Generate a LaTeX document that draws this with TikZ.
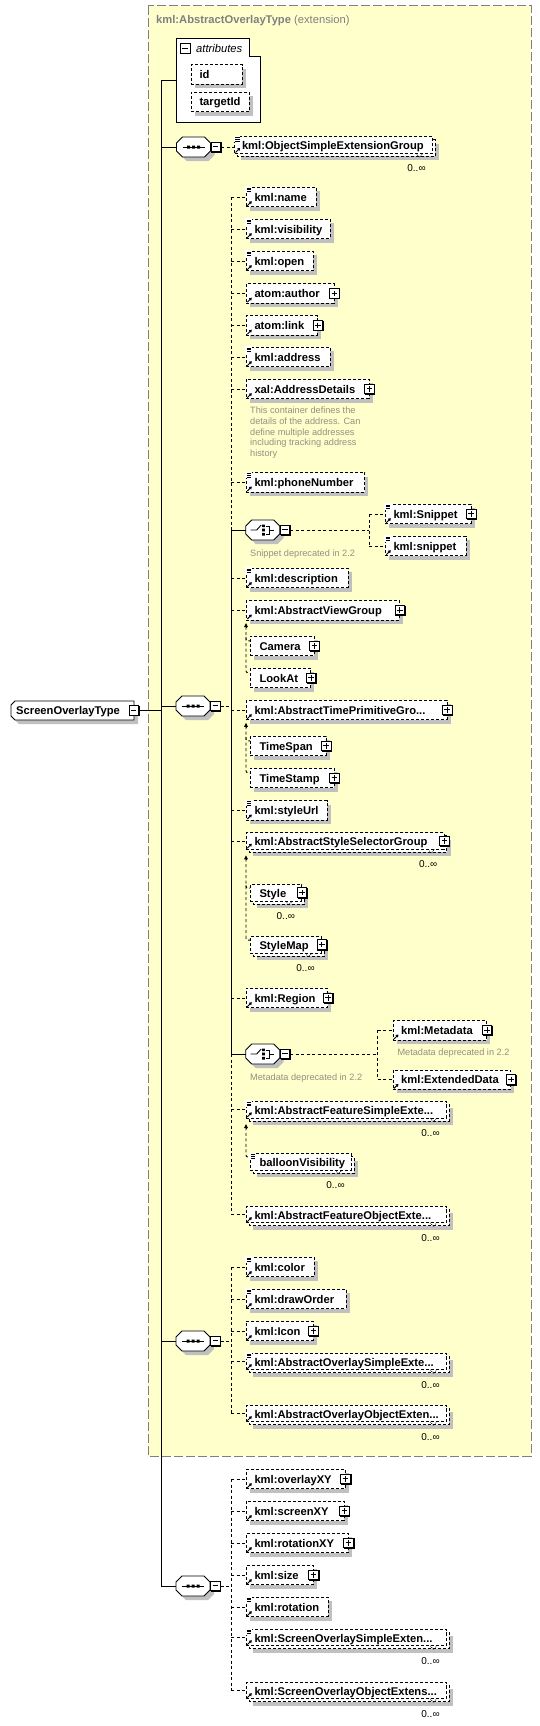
\documentclass[tikz,border=0pt]{standalone}
\usepackage{fontspec}
\setmainfont{Liberation Sans}
\usetikzlibrary{arrows.meta}
\definecolor{ybg}{RGB}{255,255,204}
\definecolor{ybd}{RGB}{128,128,128}
\definecolor{shcol}{RGB}{192,192,192}
\definecolor{desccol}{RGB}{150,142,130}
\definecolor{titlecol}{RGB}{128,128,128}
\newcommand\elfont{\fontsize{11.2}{13}\selectfont\bfseries}
\newcommand\smallfont{\fontsize{9.2}{10.67}\selectfont}
\newcommand\occfont{\fontsize{10}{12}\selectfont}
\tikzset{
  elbox/.style={draw, line width=0.9pt, dash pattern=on 3pt off 2pt, fill=white, inner sep=0pt, minimum height=19.5pt, anchor=west},
  elboxm/.style={elbox, minimum height=16.5pt},
  eltext/.style={anchor=base west, inner sep=0pt, font=\elfont},
  conn/.style={line width=0.9pt, dash pattern=on 3pt off 2.5pt},
  solidconn/.style={line width=0.9pt},
  desc/.style={anchor=base west, inner sep=0pt, font=\smallfont, text=desccol},
  occ/.style={anchor=base, inner sep=0pt, font=\occfont},
  hook/.style={conn, rounded corners=2pt},
}
% element box: id, x0, yc, x1, text, indent
\newcommand\xEl[6]{%
  \fill[shcol] ({#2+4},{#3-5.75}) rectangle ({#4+4},{#3+13.75});
  \node[elbox, minimum width={#4pt-#2pt}] (#1) at (#2,#3) {};
  \node[eltext] (#1-t) at ({#2+#6},{#3+4}) {#5};
}
% multiple-occurrence element box
\newcommand\xElM[6]{%
  \fill[shcol] ({#2+7},{#3-2.75}) rectangle ({#4+7},{#3+13.75});
  \draw[line width=0.9pt, dash pattern=on 3pt off 2pt, fill=white] ({#2+3},{#3-6.75}) rectangle ({#4+3},{#3+9.75});
  \node[elboxm, minimum width={#4pt-#2pt}] (#1) at (#2,{#3-1.5}) {};
  \node[eltext] (#1-t) at ({#2+#6},{#3+3}) {#5};
  \draw[line width=0.6pt, dash pattern=on 1pt off 1pt] ({#4-16},{#3+6.75}) -- ({#4-12.5},{#3+10.5}) -- ({#4-9},{#3+6.75});
  \node[occ] (#1-o) at ({#4-15.5},{#3+25}) {0..∞};
}
\newcommand\xSimp[1]{%
  \fill[white] ([shift={(-0.6,-0.6)}]#1.north west) rectangle ([shift={(5.8,6)}]#1.north west);
  \draw[line width=0.8pt] ([shift={(0.8,1.2)}]#1.north west) -- ++(4.6,0)
     ([shift={(0.8,3)}]#1.north west) -- ++(4.6,0)
     ([shift={(0.8,4.8)}]#1.north west) -- ++(4.6,0);
}
\newcommand\xRef[1]{%
  \draw[line width=1pt, -{Triangle[length=2.6pt,width=3.2pt]}] ([shift={(1.3,-1.5)}]#1.south west) -- ([shift={(5.8,-6)}]#1.south west);
}
\newcommand\xPlus[1]{%
  \draw[line width=0.8pt, fill=white] ([shift={(-5,-5)}]#1.east) rectangle ([shift={(4.5,4.5)}]#1.east);
  \draw[line width=1.6pt] ([shift={(5,-4.6)}]#1.east) -- ([shift={(5,5)}]#1.east) -- ([shift={(-4.6,5)}]#1.east);
  \draw[line width=0.8pt] ([shift={(-3,-0.2)}]#1.east) -- ([shift={(2.6,-0.2)}]#1.east) ([shift={(-0.2,-3)}]#1.east) -- ([shift={(-0.2,2.6)}]#1.east);
}
\newcommand\xMinusAt[2]{%
  \draw[line width=0.8pt, fill=white] ({#1},{#2-5}) rectangle ({#1+9.5},{#2+4.5});
  \draw[line width=1.6pt] ({#1+10},{#2-4.6}) -- ({#1+10},{#2+5}) -- ({#1+0.4},{#2+5});
  \draw[line width=0.8pt] ({#1+2.2},{#2-0.2}) -- ({#1+7.3},{#2-0.2});
}
\newcommand\xOct[2]{({#1+6},{#2-10}) -- ({#1+28},{#2-10}) -- ({#1+34},{#2-4}) -- ({#1+34},{#2+4}) -- ({#1+28},{#2+10}) -- ({#1+6},{#2+10}) -- ({#1},{#2+4}) -- ({#1},{#2-4}) -- cycle}
\newcommand\xSeq[3]{%
  \fill[shcol] \xOct{#2+4}{#3+4};
  \filldraw[line width=0.9pt, fill=white] \xOct{#2}{#3};
  \node[inner sep=0pt, minimum width=34pt, minimum height=20pt, anchor=west] (#1) at (#2,#3) {};
  \draw[line width=0.9pt] ({#2+6},#3) -- ({#2+28},#3);
  \fill ({#2+10.5},{#3-1.5}) rectangle ++(3,3) ({#2+15.5},{#3-1.5}) rectangle ++(3,3) ({#2+20.5},{#3-1.5}) rectangle ++(3,3);
  \xMinusAt{#2+34.5}{#3}
  \coordinate (#1-m) at ({#2+44.5},#3);
}
\newcommand\xChoice[3]{%
  \fill[shcol] \xOct{#2+4}{#3+4};
  \filldraw[line width=0.9pt, fill=white] \xOct{#2}{#3};
  \node[inner sep=0pt, minimum width=34pt, minimum height=20pt, anchor=west] (#1) at (#2,#3) {};
  \draw[line width=0.9pt] ({#2+5},#3) -- ({#2+11},#3) -- ({#2+15.5},{#3-5});
  \fill ({#2+16.5},{#3-5.5}) rectangle ++(2.6,2.6) ({#2+16.5},{#3-1.3}) rectangle ++(2.6,2.6) ({#2+16.5},{#3+2.9}) rectangle ++(2.6,2.6);
  \draw[line width=0.9pt] ({#2+20},{#3-4}) -- ({#2+24},{#3-4}) -- ({#2+24},{#3+4}) -- ({#2+20},{#3+4}) ({#2+24},#3) -- ({#2+28},#3);
  \xMinusAt{#2+34.5}{#3}
  \coordinate (#1-m) at ({#2+44.5},#3);
}
\begin{document}
\begin{tikzpicture}[x=1pt, y=-1pt]
\useasboundingbox (0,0) rectangle (539,1726);
% extension background
\filldraw[fill=ybg, draw=ybd, line width=1pt, dash pattern=on 9pt off 3pt] (148.3,6) rectangle (531,1456);
\node[anchor=base west, inner sep=0pt, font=\fontsize{11.2}{13}\selectfont, text=titlecol] (title) at (156,24) {\textbf{kml:AbstractOverlayType} (extension)};

% attributes
\filldraw[fill=white, line width=0.9pt] (176,38.3) -- (249.3,38.3) -- (249.3,56.7) -- (260,56.7) -- (260,122.3) -- (176,122.3) -- cycle;
\node[inner sep=0pt, minimum width=84pt, minimum height=84pt, anchor=north west] (attr) at (176,38.3) {};
\draw[line width=0.9pt, fill=white] (180,43.3) rectangle (190,53.3);
\draw[line width=0.8pt] (182.2,48.3) -- (187.8,48.3);
\node[anchor=base west, inner sep=0pt, font=\fontsize{11.2}{13}\selectfont\itshape] (attr-t) at (196,52.3) {attributes};
\xEl{id}{190.7}{74.5}{241.7}{id}{8.6}
\xEl{tid}{190.7}{102}{249}{targetId}{8.6}

% root
\fill[shcol] (19,705) -- (138,705) -- (138,724) -- (19,724) -- (15,720) -- (15,709) -- cycle;
\filldraw[fill=white, line width=0.9pt] (15,701) -- (134,701) -- (134,720) -- (15,720) -- (11,716) -- (11,705) -- cycle;
\node[inner sep=0pt, minimum width=123pt, minimum height=19pt, anchor=west] (sot) at (11,710.5) {};
\node[eltext] (sot-t) at (16,714.5) {ScreenOverlayType};
\xMinusAt{129}{710.5}
\coordinate (sot-m) at (139,710.5);

% sequences
\xSeq{seq1}{176.5}{147}
\xSeq{seqm}{176}{706}
\xSeq{seq2}{176}{1341}
\xSeq{seq3}{176}{1586}

\coordinate (vtop) at (161.5,80);
\coordinate (mv) at (231,0);
\coordinate (cv1) at (369.3,0);
\coordinate (cv2) at (377.7,0);

% seq1 child
\xElM{osg}{234.3}{146.7}{432}{kml:ObjectSimpleExtensionGroup}{7.5}
\xSimp{osg}\xRef{osg}

% main sequence children
\xEl{name}{246}{197}{315.7}{kml:name}{8.3} \xSimp{name}\xRef{name}
\xEl{vis}{246}{229}{329.7}{kml:visibility}{8.3} \xSimp{vis}\xRef{vis}
\xEl{open}{246}{261}{313}{kml:open}{8.3} \xSimp{open}\xRef{open}
\xEl{author}{246}{293.5}{333.7}{atom:author}{8.3} \xRef{author}\xPlus{author}
\xEl{link}{246}{325.5}{317}{atom:link}{8.3} \xRef{link}\xPlus{link}
\xEl{addr}{246}{357}{330}{kml:address}{8.3} \xSimp{addr}\xRef{addr}
\xEl{xal}{246}{389}{368.7}{xal:AddressDetails}{8.3} \xRef{xal}\xPlus{xal}
\node[desc, anchor=north west, align=left] (xal-d) at (250,406.8) {This container defines the\\details of the address. Can\\define multiple addresses\\including tracking address\\history};
\xEl{phone}{246}{482.3}{364.3}{kml:phoneNumber}{8.3} \xSimp{phone}\xRef{phone}
\xChoice{snipch}{245.7}{530}
\xEl{snip1}{385}{514}{470.5}{kml:Snippet}{8.3} \xSimp{snip1}\xRef{snip1}\xPlus{snip1}
\xEl{snip2}{385}{546}{465.7}{kml:snippet}{8.3} \xSimp{snip2}\xRef{snip2}
\node[desc] (snipch-d) at (250,556) {Snippet deprecated in 2.2};
\xEl{descr}{246}{578}{347.7}{kml:description}{8.3} \xSimp{descr}\xRef{descr}
\xEl{avg}{246}{610.3}{399}{kml:AbstractViewGroup}{8.3} \xRef{avg}\xPlus{avg}
\xEl{camera}{250}{646}{313.7}{Camera}{9.3} \xPlus{camera}
\xEl{lookat}{250}{678}{310.3}{LookAt}{9.3} \xPlus{lookat}
\xEl{atpg}{246}{710}{446.5}{kml:AbstractTimePrimitiveGro...}{8.3} \xRef{atpg}\xPlus{atpg}
\xEl{tspan}{250}{746}{325.5}{TimeSpan}{9.3} \xPlus{tspan}
\xEl{tstamp}{250}{778}{333.7}{TimeStamp}{9.3} \xPlus{tstamp}
\xEl{surl}{246}{810.3}{326.7}{kml:styleUrl}{8.3} \xSimp{surl}\xRef{surl}
\xElM{assg}{246}{842.5}{443.7}{kml:AbstractStyleSelectorGroup}{8.3} \xRef{assg}\xPlus{assg}
\xElM{style}{250}{894.3}{301.3}{Style}{9.3} \xPlus{style}
\xElM{smap}{250}{946.3}{321}{StyleMap}{9.3} \xPlus{smap}
\xEl{region}{246}{998}{327.2}{kml:Region}{8.3} \xRef{region}\xPlus{region}
\xChoice{metach}{245.7}{1054}
\xEl{meta}{392.7}{1030.3}{486.3}{kml:Metadata}{8.3} \xRef{meta}\xPlus{meta}
\node[desc] (meta-d) at (397.3,1055) {Metadata deprecated in 2.2};
\xEl{xdata}{392.7}{1079.7}{510.3}{kml:ExtendedData}{8.3} \xRef{xdata}\xPlus{xdata}
\node[desc] (metach-d) at (250,1080) {Metadata deprecated in 2.2};
\xElM{afse}{246}{1111.2}{446}{kml:AbstractFeatureSimpleExte...}{8.3} \xSimp{afse}\xRef{afse}
\xElM{balloon}{250}{1163.3}{351}{balloonVisibility}{9.3} \xSimp{balloon}
\xElM{afoe}{246}{1216}{446}{kml:AbstractFeatureObjectExte...}{8.3} \xRef{afoe}

% seq2 children
\xEl{color}{246}{1267}{314}{kml:color}{8.3} \xSimp{color}\xRef{color}
\xEl{dorder}{246}{1299}{345.7}{kml:drawOrder}{8.3} \xSimp{dorder}\xRef{dorder}
\xEl{icon}{246}{1331}{312.7}{kml:Icon}{8.3} \xRef{icon}\xPlus{icon}
\xElM{aose}{246}{1363}{446}{kml:AbstractOverlaySimpleExte...}{8.3} \xSimp{aose}\xRef{aose}
\xElM{aooe}{246}{1415}{446}{kml:AbstractOverlayObjectExten...}{8.3} \xRef{aooe}

% seq3 children
\xEl{oxy}{246}{1479}{344.8}{kml:overlayXY}{8.3} \xRef{oxy}\xPlus{oxy}
\xEl{sxy}{246}{1511}{343.7}{kml:screenXY}{8.3} \xRef{sxy}\xPlus{sxy}
\xEl{rxy}{246}{1543}{347.8}{kml:rotationXY}{8.3} \xRef{rxy}\xPlus{rxy}
\xEl{size}{246}{1575}{312.8}{kml:size}{8.3} \xRef{size}\xPlus{size}
\xEl{rot}{246}{1607}{327.7}{kml:rotation}{8.3} \xSimp{rot}\xRef{rot}
\xElM{sose}{246}{1639}{446}{kml:ScreenOverlaySimpleExten...}{8.3} \xSimp{sose}\xRef{sose}
\xElM{sooe}{246}{1692}{446}{kml:ScreenOverlayObjectExtens...}{8.3} \xRef{sooe}

% ---------- connectors ----------
\draw[solidconn] (attr.west |- vtop) -- (vtop) -- (vtop |- seq3.west) -- (seq3.west);
\draw[solidconn] (vtop |- seq1.west) -- (seq1.west);
\draw[solidconn] (vtop |- seqm.west) -- (seqm.west);
\draw[solidconn] (vtop |- seq2.west) -- (seq2.west);
\draw[solidconn] (sot-m) -- (vtop |- sot-m);

\draw[conn] (seq1-m) -- (seq1-m -| osg.west);

% main sequence
\draw[conn] (seqm-m) -- (seqm-m -| mv);
\draw[conn] (name.west -| mv) -- (snipch.west -| mv);
\draw[solidconn] (snipch.west -| mv) -- (metach.west -| mv);
\draw[conn] (metach.west -| mv) -- (afoe.west -| mv);
\foreach \n in {name,vis,open,author,link,addr,xal,phone,descr,avg,atpg,surl,assg,region,afse,afoe}
  \draw[conn] (\n.west -| mv) -- (\n.west);
\draw[solidconn] (snipch.west -| mv) -- (snipch.west);
\draw[solidconn] (metach.west -| mv) -- (metach.west);

% choices
\draw[conn] (snipch-m) -- (snipch-m -| cv1);
\draw[conn] (snip1.west -| cv1) -- (snip2.west -| cv1);
\draw[conn] (snip1.west -| cv1) -- (snip1.west);
\draw[conn] (snip2.west -| cv1) -- (snip2.west);
\draw[conn] (metach-m) -- (metach-m -| cv2);
\draw[conn] (meta.west -| cv2) -- (xdata.west -| cv2);
\draw[conn] (meta.west -| cv2) -- (meta.west);
\draw[conn] (xdata.west -| cv2) -- (xdata.west);

% substitution groups
\draw[hook] ([yshift=-6pt]avg.south west) |- ([yshift=-5pt]lookat.north west);
\draw[hook] ([yshift=-1pt]camera.north west -| avg.west) |- ([yshift=-5pt]camera.north west);
\draw[line width=0.9pt, -{Triangle[length=4pt,width=3.6pt]}] ([yshift=-7pt]avg.south west) -- ([yshift=-2.6pt]avg.south west);

\draw[hook] ([yshift=-6pt]atpg.south west) |- ([yshift=-5pt]tstamp.north west);
\draw[hook] ([yshift=-1pt]tspan.north west -| atpg.west) |- ([yshift=-5pt]tspan.north west);
\draw[line width=0.9pt, -{Triangle[length=4pt,width=3.6pt]}] ([yshift=-7pt]atpg.south west) -- ([yshift=-2.6pt]atpg.south west);

\draw[hook] ([yshift=-9pt]assg.south west) |- ([yshift=-4pt]smap.north west);
\draw[hook] ([yshift=-1pt]style.north west -| assg.west) |- ([yshift=-4pt]style.north west);
\draw[line width=0.9pt, -{Triangle[length=4pt,width=3.6pt]}] ([yshift=-10pt]assg.south west) -- ([yshift=-5.6pt]assg.south west);

\draw[hook] ([yshift=-9pt]afse.south west) |- ([yshift=-4pt]balloon.north west);
\draw[line width=0.9pt, -{Triangle[length=4pt,width=3.6pt]}] ([yshift=-10pt]afse.south west) -- ([yshift=-5.6pt]afse.south west);

% seq2
\draw[conn] (seq2-m) -- (seq2-m -| mv);
\draw[conn] (color.west -| mv) -- (aooe.west -| mv);
\foreach \n in {color,dorder,icon,aose,aooe}
  \draw[conn] (\n.west -| mv) -- (\n.west);

% seq3
\draw[conn] (seq3-m) -- (seq3-m -| mv);
\draw[conn] (oxy.west -| mv) -- (sooe.west -| mv);
\foreach \n in {oxy,sxy,rxy,size,rot,sose,sooe}
  \draw[conn] (\n.west -| mv) -- (\n.west);
\end{tikzpicture}
\end{document}
